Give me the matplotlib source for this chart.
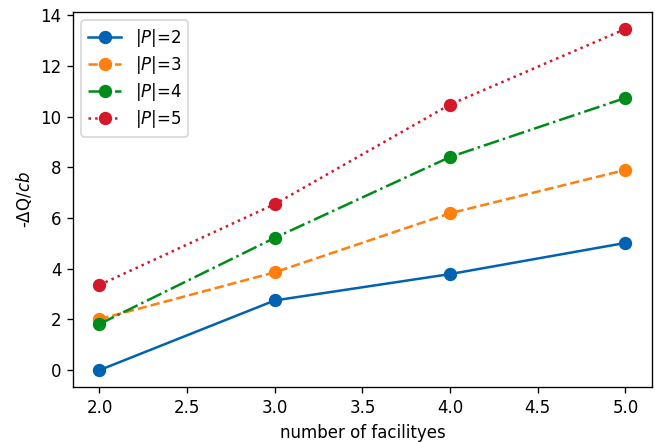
import matplotlib.pyplot as plt

facilities = [2, 3, 4, 5]
p2 = [0.0, 2.75, 3.79, 5.02]
p3 = [2.01, 3.86, 6.19, 7.9]
p4 = [1.82, 5.22, 8.41, 10.74]
p5 = [3.36, 6.55, 10.48, 13.46]

series = [
    ("|$P$|=2", p2, "#0062b1", "-"),
    ("|$P$|=3", p3, "#ff7f0e", "--"),
    ("|$P$|=4", p4, "#008c1a", "-."),
    ("|$P$|=5", p5, "#d3182a", ":"),
]

fig, ax = plt.subplots(figsize=(659 / 120, 442 / 120), dpi=120)
for label, values, color, ls in series:
    ax.plot(facilities, values, linestyle=ls, marker="o", color=color,
            label=label, linewidth=1.5, markersize=7)

ax.set_xlabel("number of facilityes")
ax.set_ylabel("-$\\Delta$Q/$cb$")
ax.legend(loc="upper left", labelspacing=0.3)
fig.subplots_adjust(left=0.111, right=0.989, top=0.973, bottom=0.124)
fig.savefig("out.png", dpi=120)
